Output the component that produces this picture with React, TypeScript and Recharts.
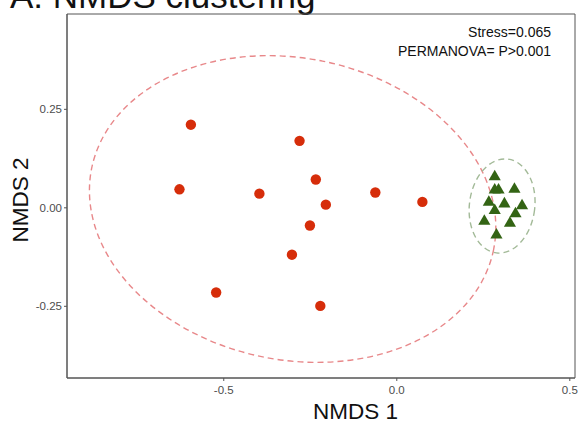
import React from "react";
import { ScatterChart, Scatter, XAxis, YAxis, ReferenceArea } from "recharts";

// group 1 (red circles)
const redX = [-0.595, -0.281, -0.234, -0.628, -0.397, -0.062, 0.074, -0.205, -0.251, -0.303, -0.522, -0.221];
const redY = [0.211, 0.17, 0.072, 0.047, 0.036, 0.039, 0.015, 0.008, -0.045, -0.119, -0.215, -0.249];

// group 2 (green triangles)
const greenX = [0.283, 0.283, 0.294, 0.34, 0.266, 0.311, 0.362, 0.283, 0.343, 0.253, 0.327, 0.288];
const greenY = [0.079, 0.045, 0.045, 0.047, 0.014, 0.01, 0.005, -0.007, -0.015, -0.034, -0.039, -0.069];

// ellipses: [centerX, centerY, semiX, semiY, tilt deg]
const redEllipse = [-0.301, -0.003, 0.5925, 0.383, 11.4];
const greenEllipse = [0.3043, 0.0046, 0.0945, 0.12, 7];

const xDomain = [-0.953, 0.515];
const yDomain = [-0.432, 0.492];
const xTicks = [-0.5, 0, 0.5];
const yTicks = [-0.25, 0, 0.25];

const annotations = ["Stress=0.065", "PERMANOVA= P>0.001"];

const redData = redX.map((x, i) => ({ x, y: redY[i] }));
const greenData = greenX.map((x, i) => ({ x, y: greenY[i] }));

const FONT = "'Liberation Sans', Arial, sans-serif";

const ellipseShape = (stroke: string, angle: number) => (props: any) => {
  const { x, y, width, height } = props;
  const cx = x + width / 2;
  const cy = y + height / 2;
  return (
    <ellipse
      cx={cx}
      cy={cy}
      rx={Math.abs(width) / 2}
      ry={Math.abs(height) / 2}
      transform={`rotate(${angle} ${cx} ${cy})`}
      fill="none"
      stroke={stroke}
      strokeWidth={1.4}
      strokeDasharray="6 4"
    />
  );
};

const Dot = (props: any) => <circle cx={props.cx} cy={props.cy} r={5.2} fill="#D62D0A" />;

const ellipseArea = (e: number[], stroke: string) => (
  <ReferenceArea
    x1={e[0] - e[2]}
    x2={e[0] + e[2]}
    y1={e[1] - e[3]}
    y2={e[1] + e[3]}
    ifOverflow="visible"
    shape={ellipseShape(stroke, e[4])}
  />
);

export default function App() {
  return (
    <div style={{ position: "absolute", left: 0, top: 0, width: 578, height: 421, background: "#fff" }}>
      <ScatterChart width={578} height={421} margin={{ top: 14, right: 3, bottom: 0, left: 0 }}>
        <XAxis
          type="number"
          dataKey="x"
          domain={xDomain}
          ticks={xTicks}
          allowDataOverflow
          height={43}
          tickSize={3}
          tickMargin={5}
          stroke="#555"
          tick={{ fill: "#4D4D4D", fontSize: 11.5, fontFamily: FONT }}
          tickFormatter={(v: number) => v.toFixed(1)}
        />
        <YAxis
          type="number"
          dataKey="y"
          domain={yDomain}
          ticks={yTicks}
          allowDataOverflow
          width={67}
          tickSize={3}
          tickMargin={2}
          stroke="#555"
          tick={{ fill: "#4D4D4D", fontSize: 11.5, fontFamily: FONT }}
          tickFormatter={(v: number) => v.toFixed(2)}
        />
        <ReferenceArea
          x1={xDomain[0]}
          x2={xDomain[1]}
          y1={yDomain[0]}
          y2={yDomain[1]}
          fill="none"
          stroke="#555"
          strokeWidth={1}
          ifOverflow="visible"
        />
        <Scatter data={redData} shape={Dot} isAnimationActive={false} />
        <Scatter data={greenData} shape="triangle" fill="#336414" isAnimationActive={false} />
        {ellipseArea(redEllipse, "#E8888A")}
        {ellipseArea(greenEllipse, "#A3BA98")}
        <text x={10} y={8} fontSize={35} fontFamily={FONT} fill="#111">A: NMDS clustering</text>
        <text x={551} y={36.5} fontSize={14} fontFamily={FONT} textAnchor="end" fill="#111">{annotations[0]}</text>
        <text x={551} y={56} fontSize={14} fontFamily={FONT} textAnchor="end" fill="#111">{annotations[1]}</text>
        <text x={355.5} y={419} fontSize={22.5} fontFamily={FONT} textAnchor="middle" fill="#111">NMDS 1</text>
        <text x={28} y={200} fontSize={22.5} fontFamily={FONT} textAnchor="middle" fill="#111" transform="rotate(-90 28 200)">NMDS 2</text>
      </ScatterChart>
    </div>
  );
}
